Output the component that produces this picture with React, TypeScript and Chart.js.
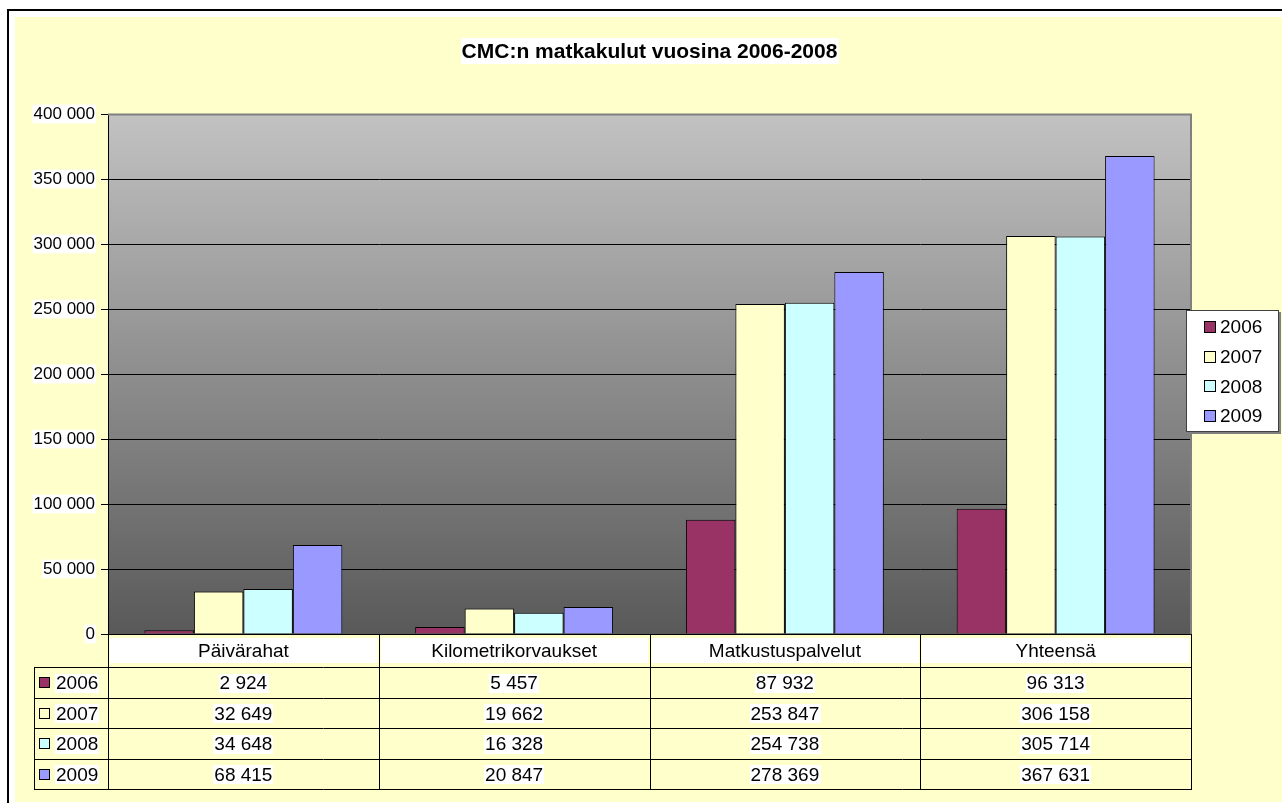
import React, { useEffect, useRef } from "react";
import { Chart, registerables } from "chart.js";

Chart.register(...registerables);

const chartTitle = "CMC:n matkakulut vuosina 2006-2008";
const categories = ["Päivärahat", "Kilometrikorvaukset", "Matkustuspalvelut", "Yhteensä"];
const seriesNames = ["2006", "2007", "2008", "2009"];
const values2006 = [2924, 5457, 87932, 96313];
const values2007 = [32649, 19662, 253847, 306158];
const values2008 = [34648, 16328, 254738, 305714];
const values2009 = [68415, 20847, 278369, 367631];
const seriesValues = [values2006, values2007, values2008, values2009];
const seriesColors = ["#993366", "#FFFFCC", "#CCFFFF", "#9999FF"];
const yMin = 0;
const yMax = 400000;
const yStep = 50000;

const FONT = '"Liberation Sans", Arial, Helvetica, sans-serif';

const fmt = (n: number) => String(n).replace(/\B(?=(\d{3})+(?!\d))/g, " ");

function textBox(
  ctx: CanvasRenderingContext2D,
  text: string,
  x: number,
  y: number,
  align: CanvasTextAlign,
  font: string,
  boxH: number
) {
  ctx.font = font;
  const w = ctx.measureText(text).width;
  let lx = x;
  if (align === "center") lx = x - w / 2;
  else if (align === "right") lx = x - w;
  ctx.fillStyle = "#FFFFFF";
  ctx.fillRect(Math.round(lx - 1), Math.round(y - boxH / 2), Math.round(w + 2), boxH);
  ctx.fillStyle = "#000000";
  ctx.textAlign = align;
  ctx.textBaseline = "middle";
  ctx.fillText(text, x, y + 1);
}

const framePlugin = {
  id: "excelFrame",
  beforeDraw(chart: any) {
    const ctx: CanvasRenderingContext2D = chart.ctx;
    const W = chart.width;
    const H = chart.height;
    ctx.save();
    ctx.fillStyle = "#FFFFFF";
    ctx.fillRect(0, 0, W, H);
    ctx.fillStyle = "#000000";
    ctx.fillRect(7, 9, W - 7, 2);
    ctx.fillRect(7, 9, 2, H - 9);
    ctx.fillStyle = "#FFFFCC";
    ctx.fillRect(15, 17, W - 15, 802 - 17);
    const a = chart.chartArea;
    const g = ctx.createLinearGradient(0, a.top, 0, a.bottom);
    g.addColorStop(0, "#C2C2C2");
    g.addColorStop(1, "#595959");
    ctx.fillStyle = g;
    ctx.fillRect(a.left, a.top, a.right - a.left, a.bottom - a.top);
    ctx.restore();
  },
  afterDraw(chart: any) {
    const ctx: CanvasRenderingContext2D = chart.ctx;
    const a = chart.chartArea;
    ctx.save();
    // plot border (top/right)
    ctx.strokeStyle = "#808080";
    ctx.lineWidth = 2;
    ctx.beginPath();
    ctx.moveTo(a.left, a.top + 0.5);
    ctx.lineTo(a.right, a.top + 0.5);
    ctx.lineTo(a.right, a.bottom);
    ctx.stroke();

    // title
    textBox(ctx, chartTitle, (a.left + a.right) / 2 + 0, 51, "center", `bold 21px ${FONT}`, 26);

    // legend
    const lx = 1186, ly = 310, lw = 93, lh = 122;
    ctx.fillStyle = "#808080";
    ctx.fillRect(lx + 2, ly + 2, lw, lh);
    ctx.fillStyle = "#FFFFFF";
    ctx.fillRect(lx, ly, lw, lh);
    ctx.strokeStyle = "#404040";
    ctx.lineWidth = 1;
    ctx.strokeRect(lx + 0.5, ly + 0.5, lw - 1, lh - 1);
    seriesNames.forEach((name, i) => {
      const cy = 327 + i * 29.7;
      ctx.fillStyle = seriesColors[i];
      ctx.fillRect(1204, Math.round(cy - 6), 12, 12);
      ctx.strokeStyle = "#000";
      ctx.strokeRect(1204.5, Math.round(cy - 6) + 0.5, 11, 11);
      ctx.fillStyle = "#000";
      ctx.font = `19px ${FONT}`;
      ctx.textAlign = "left";
      ctx.textBaseline = "middle";
      ctx.fillText(name, 1220, cy + 1);
    });

    // data table
    const xs = chart.scales.x;
    const n = categories.length;
    const c0 = xs.getPixelForValue(0);
    const cw = xs.getPixelForValue(1) - c0;
    const left = c0 - cw / 2;
    const right = left + n * cw;
    const top = a.bottom;
    const headH = 33;
    const rowH = 30.5;
    const headBottom = top + headH;
    const tableBottom = headBottom + seriesNames.length * rowH;
    const keyLeft = 34;
    const font = `19px ${FONT}`;

    categories.forEach((cat, i) => {
      const cl = left + i * cw;
      ctx.fillStyle = "#FFFFFF";
      ctx.fillRect(Math.round(cl + 2), top + 4, Math.round(cw - 4), headH - 8);
      ctx.fillStyle = "#000";
      ctx.font = font;
      ctx.textAlign = "center";
      ctx.textBaseline = "middle";
      ctx.fillText(cat, cl + cw / 2, top + headH / 2 + 1);
    });

    seriesNames.forEach((name, r) => {
      const y0 = headBottom + r * rowH;
      const cy = y0 + rowH / 2 + 1;
      ctx.fillStyle = seriesColors[r];
      ctx.fillRect(39, Math.round(cy - 6), 11, 11);
      ctx.strokeStyle = "#000";
      ctx.lineWidth = 1;
      ctx.strokeRect(39.5, Math.round(cy - 6) + 0.5, 10, 10);
      textBox(ctx, name, 56, cy, "left", font, 19);
      seriesValues[r].forEach((v, i) => {
        textBox(ctx, fmt(v), left + i * cw + cw / 2, cy, "center", font, 19);
      });
    });

    ctx.strokeStyle = "#000";
    ctx.lineWidth = 1;
    ctx.beginPath();
    for (let i = 0; i <= n; i++) {
      const x = Math.round(left + i * cw) + 0.5;
      ctx.moveTo(x, top);
      ctx.lineTo(x, tableBottom);
    }
    ctx.moveTo(keyLeft + 0.5, headBottom);
    ctx.lineTo(keyLeft + 0.5, tableBottom);
    for (let r = 0; r <= seriesNames.length; r++) {
      const y = Math.round(headBottom + r * rowH) + 0.5;
      ctx.moveTo(keyLeft, y);
      ctx.lineTo(Math.round(right) + 1, y);
    }
    ctx.stroke();
    ctx.restore();
  },
};

export default function App() {
  const ref = useRef<HTMLCanvasElement | null>(null);
  useEffect(() => {
    if (!ref.current) return;
    const chart = new Chart(ref.current, {
      type: "bar",
      data: {
        labels: categories,
        datasets: seriesNames.map((name, i) => ({
          label: name,
          data: seriesValues[i],
          backgroundColor: seriesColors[i],
          borderColor: "#000000",
          borderWidth: 1,
          categoryPercentage: 0.731,
          barPercentage: 1,
        })),
      },
      options: {
        animation: false,
        responsive: false,
        devicePixelRatio: 1,
        layout: { padding: { left: 15, top: 114, right: 91, bottom: 169 } },
        plugins: {
          legend: { display: false },
          title: { display: false },
          tooltip: { enabled: false },
        },
        scales: {
          x: { display: false, offset: true, grid: { display: false } },
          y: {
            min: yMin,
            max: yMax,
            afterFit: (s: any) => {
              s.width = 93;
            },
            ticks: {
              stepSize: yStep,
              callback: (v: any) => fmt(Number(v)),
              color: "#000",
              font: { family: FONT, size: 17, lineHeight: 1.1 },
              padding: 6,
              showLabelBackdrop: true,
              backdropColor: "#FFFFFF",
              backdropPadding: { x: 1, y: 0, top: 0, bottom: 0, left: 1, right: 1 } as any,
            },
            grid: {
              color: (c: any) => (c.tick && c.tick.value === yMax ? "#808080" : "#000000"),
              tickColor: "#000000",
              tickLength: 7,
              lineWidth: 1,
            },
            border: { color: "#000000", width: 1 },
          },
        },
      } as any,
      plugins: [framePlugin],
    });
    return () => chart.destroy();
  }, []);
  return (
    <div style={{ position: "fixed", left: 0, top: 0, width: 1282, height: 803 }}>
      <canvas ref={ref} width={1282} height={803} style={{ display: "block" }} />
    </div>
  );
}
